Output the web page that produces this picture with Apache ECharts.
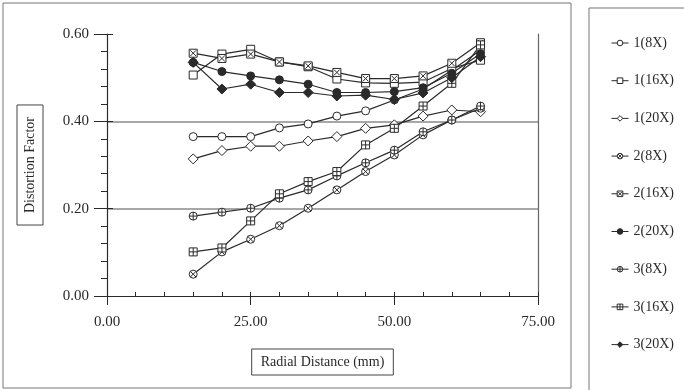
<!DOCTYPE html>
<html>
<head>
<meta charset="utf-8">
<script src="https://cdn.jsdelivr.net/npm/echarts@6/dist/echarts.min.js"></script>
<style>
  html, body { margin: 0; padding: 0; background: #fff; }
  #main { width: 684px; height: 390px; }
</style>
</head>
<body>
<div id="main"></div>
<script>
// radial distance (mm)
const xs = [15, 20, 25, 30, 35, 40, 45, 50, 55, 60, 65];
// distortion factor per lens / magnification
const s1_8  = [0.365, 0.365, 0.365, 0.385, 0.394, 0.412, 0.424, 0.449, 0.474, 0.517, 0.563];
const s1_16 = [0.506, 0.554, 0.565, 0.536, 0.525, 0.497, 0.488, 0.487, 0.490, 0.521, 0.540];
const s1_20 = [0.314, 0.333, 0.343, 0.343, 0.355, 0.365, 0.384, 0.392, 0.412, 0.426, 0.422];
const s2_8  = [0.050, 0.101, 0.130, 0.161, 0.201, 0.243, 0.285, 0.323, 0.369, 0.403, 0.430];
const s2_16 = [0.556, 0.544, 0.554, 0.536, 0.527, 0.512, 0.498, 0.498, 0.504, 0.533, 0.580];
const s2_20 = [0.535, 0.514, 0.504, 0.495, 0.485, 0.466, 0.466, 0.468, 0.477, 0.510, 0.555];
const s3_8  = [0.183, 0.192, 0.201, 0.224, 0.243, 0.275, 0.305, 0.334, 0.376, 0.403, 0.435];
const s3_16 = [0.101, 0.110, 0.172, 0.234, 0.262, 0.285, 0.346, 0.384, 0.435, 0.487, 0.575];
const s3_20 = [0.535, 0.474, 0.485, 0.466, 0.466, 0.458, 0.460, 0.450, 0.465, 0.500, 0.548];
const names = ['1(8X)', '1(16X)', '1(20X)', '2(8X)', '2(16X)', '2(20X)', '3(8X)', '3(16X)', '3(20X)'];

const FONT = 'Liberation Serif';
const INK = '#2a2a2a';

// marker shapes
const CIRCLE = 'M10,0A10,10,0,1,1,10,20A10,10,0,1,1,10,0Z';
const SQUARE = 'M0,0L20,0L20,20L0,20Z';
const XMARK = 'M2.9,2.9L17.1,17.1M17.1,2.9L2.9,17.1';
const PLUS = 'M10,0L10,20M0,10L20,10';
const marks = [
  { sym: 'circle', fill: '#fff' },
  { sym: 'rect', fill: '#fff' },
  { sym: 'diamond', fill: '#fff' },
  { sym: 'path://' + CIRCLE + XMARK, fill: '#fff' },
  { sym: 'path://' + SQUARE + XMARK, fill: '#fff' },
  { sym: 'circle', fill: INK },
  { sym: 'path://' + CIRCLE + PLUS, fill: '#fff' },
  { sym: 'path://' + SQUARE + PLUS, fill: '#fff' },
  { sym: 'diamond', fill: INK },
];
const allData = [s1_8, s1_16, s1_20, s2_8, s2_16, s2_20, s3_8, s3_16, s3_20];

const series = allData.map(function (d, i) {
  return {
    name: names[i],
    type: 'line',
    data: xs.map(function (x, j) { return [x, d[j]]; }),
    symbol: marks[i].sym,
    symbolSize: i === 2 || i === 8 ? 10 : 8,
    showAllSymbol: true,
    lineStyle: { color: INK, width: 1.2 },
    itemStyle: { color: marks[i].fill, borderColor: INK, borderWidth: 1 },
    emphasis: { disabled: true },
    z: 3,
  };
});

const legendData = names.map(function (n, i) {
  return {
    name: n,
    itemStyle: { color: marks[i].fill, borderColor: INK, borderWidth: 1 },
    lineStyle: { color: INK, width: 1 },
  };
});

const axisText = { fontFamily: FONT, fontSize: 15, color: INK };
const boxName = {
  fontFamily: FONT, fontSize: 14, color: INK,
  borderColor: '#444', borderWidth: 1,
};

const myChart = echarts.init(document.getElementById('main'));
const option = {
  backgroundColor: '#fff',
  animation: false,
  graphic: [
    { type: 'rect', shape: { x: 3, y: 3, width: 568, height: 385 },
      style: { fill: 'none', stroke: '#777', lineWidth: 1 } },
    { type: 'rect', shape: { x: 589, y: 8, width: 110, height: 400 },
      style: { fill: 'none', stroke: '#777', lineWidth: 1 } },
  ],
  grid: { left: 107, right: 146, top: 34, bottom: 94 },
  legend: {
    orient: 'vertical',
    left: 606,
    top: 31,
    itemWidth: 17,
    itemHeight: 7,
    itemGap: 23.7,
    data: legendData,
    textStyle: { fontFamily: FONT, fontSize: 14, color: INK },
  },
  xAxis: [
    {
      type: 'value', min: 0, max: 75, interval: 25,
      name: 'Radial Distance (mm)', nameLocation: 'middle', nameGap: 53,
      nameTextStyle: Object.assign({ padding: [6, 9] }, boxName),
      axisLine: { onZero: false, lineStyle: { color: INK, width: 1.2 } },
      axisTick: { length: 9, lineStyle: { color: INK } },
      axisLabel: Object.assign({ margin: 19, formatter: function (v) { return v.toFixed(2); } }, axisText),
      splitLine: { show: false },
    },
    {
      type: 'value', min: 0, max: 75, interval: 5,
      axisLine: { show: false },
      axisTick: { length: 4, lineStyle: { color: INK } },
      axisLabel: { show: false },
      splitLine: { show: false },
    },
  ],
  yAxis: [
    {
      type: 'value', min: 0, max: 0.6, interval: 0.2, position: 'left',
      name: 'Distortion Factor', nameLocation: 'middle', nameGap: 64, nameRotate: 90,
      nameTextStyle: Object.assign({ padding: [6, 12] }, boxName),
      axisLine: { show: true, lineStyle: { color: INK, width: 1.2 } },
      axisTick: { length: 13, lineStyle: { color: INK } },
      axisLabel: Object.assign({ margin: 18, formatter: function (v) { return v.toFixed(2); } }, axisText),
      splitLine: { show: true, showMinLine: false, showMaxLine: false, lineStyle: { color: '#8a8a8a', width: 1.5 } },
    },
    {
      type: 'value', min: 0, max: 0.6, interval: 0.04, position: 'left',
      axisLine: { show: false },
      axisTick: { length: 6, lineStyle: { color: INK } },
      axisLabel: { show: false },
      splitLine: { show: false },
    },
    {
      type: 'value', min: 0, max: 0.6, interval: 0.2, position: 'left',
      axisLine: { show: false },
      axisTick: { inside: true, length: 6, lineStyle: { color: INK } },
      axisLabel: { show: false },
      splitLine: { show: false },
    },
    {
      type: 'value', min: 0, max: 0.6, position: 'right',
      axisLine: { show: true, lineStyle: { color: '#666', width: 1.2 } },
      axisTick: { show: false },
      axisLabel: { show: false },
      splitLine: { show: false },
    },
  ],
  series: series,
};
myChart.setOption(option);
window.onresize = myChart.resize;
</script>
</body>
</html>
